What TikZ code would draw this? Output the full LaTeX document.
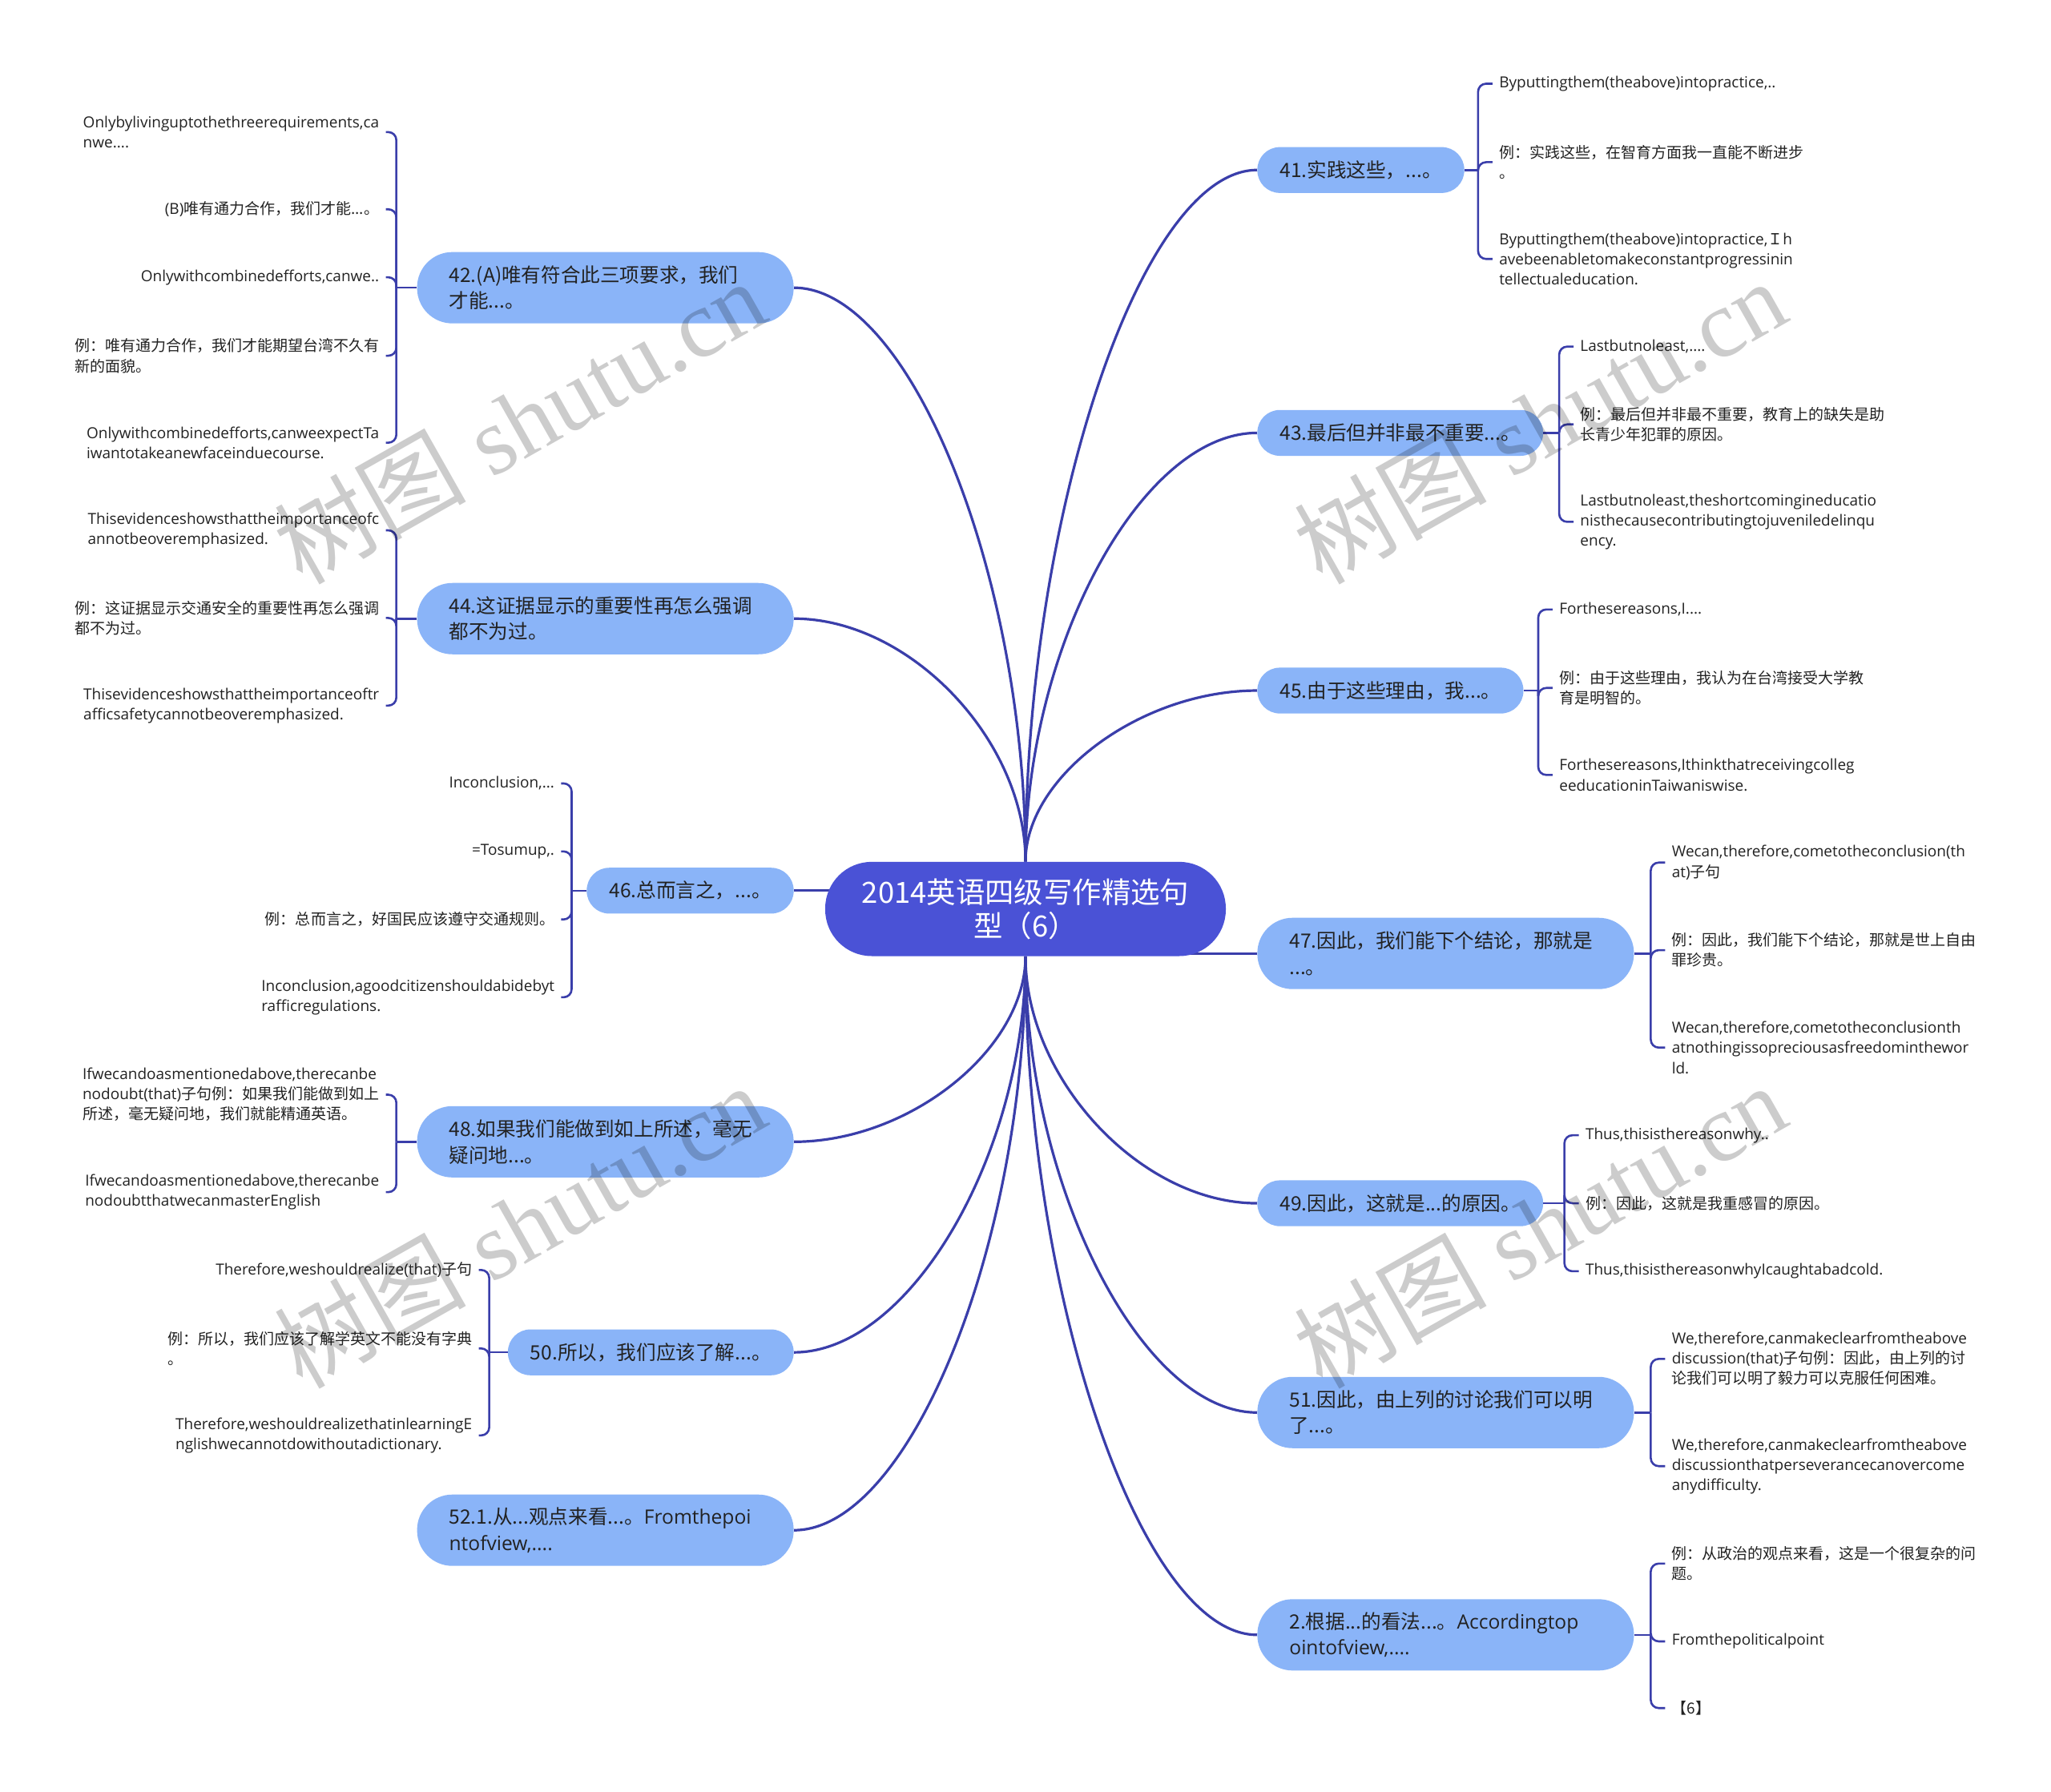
\documentclass[tikz,border=0pt]{standalone}
\usepackage{fontspec}
\setmainfont{Open Sans}
\newfontfamily\zh{Noto Sans CJK SC}
\newfontfamily\wmserif{Liberation Serif}
\usepackage{tikz}
\usetikzlibrary{positioning, calc, backgrounds}
\definecolor{rootblue}{RGB}{74, 82, 214}
\definecolor{topicblue}{RGB}{138, 180, 248}
\definecolor{linkblue}{RGB}{58, 62, 170}
\definecolor{leafgray}{RGB}{34, 34, 34}
\tikzstyle{rootnode} = [rectangle, fill=rootblue, rounded corners=29pt, minimum width=250pt, minimum height=58.8pt, text=white, align=center, font=\zh\fontsize{18.2}{21.2}\selectfont]
\tikzstyle{topicnode} = [rectangle, fill=topicblue, rounded corners=14pt, inner xsep=14pt, inner ysep=4pt, minimum height=28.6pt, align=left, text=leafgray, font=\zh\fontsize{12.3}{16.3}\selectfont]
\tikzstyle{topicwide} = [topicnode, text width=195pt, inner xsep=20pt, rounded corners=22pt, minimum height=44.5pt]
\tikzstyle{leafnode} = [inner xsep=4pt, inner ysep=1pt, align=left, text=leafgray, font=\fontsize{9.5}{12.6}\selectfont]
\tikzstyle{leafcn} = [leafnode, font=\zh\fontsize{9.5}{12.6}\selectfont]
\tikzstyle{branchline} = [line width=1.6pt, color=linkblue]
\tikzstyle{hookline} = [line width=1.3pt, color=linkblue, rounded corners=5pt]
\tikzstyle{stamp} = [rotate=29.5, text=black, text opacity=0.2, font=\fontsize{60}{60}\selectfont]
\newcommand{\twig}[2]{\draw[branchline] (#1) .. controls ($(#1)!0.5!(#1 |- #2)$) and ($(#1 |- #2)!0.5!(#2)$) .. (#2);}

\begin{document}
\begin{tikzpicture}[x=0.8163pt, y=-0.8163pt]
    \useasboundingbox (0,0) rectangle (1568,1370);

    \node (root) [rootnode] at (784,695) {2014英语四级写作精选句\\型（6）};

    \node (n41) [topicnode, anchor=west] at (961,130) {41.实践这些，...。};
    \node (n43) [topicnode, anchor=west] at (961,331) {43.最后但并非最不重要...。};
    \node (n45) [topicnode, anchor=west] at (961,528) {45.由于这些理由，我...。};
    \node (n47) [topicwide, anchor=west] at (961,729) {47.因此，我们能下个结论，那就是\\...。};
    \node (n49) [topicnode, anchor=west] at (961,920) {49.因此，这就是...的原因。};
    \node (n51) [topicwide, anchor=west] at (961,1080) {51.因此，由上列的讨论我们可以明\\了...。};
    \node (n2) [topicwide, anchor=west] at (961,1250) {2.根据...的看法...。{\rmfamily Accordingtop}\\{\rmfamily ointofview,....}};

    \node (n42) [topicwide, anchor=east] at (607,220) {42.(A)唯有符合此三项要求，我们\\才能...。};
    \node (n44) [topicwide, anchor=east] at (607,473) {44.这证据显示的重要性再怎么强调\\都不为过。};
    \node (n46) [topicnode, anchor=east] at (607,681) {46.总而言之，...。};
    \node (n48) [topicwide, anchor=east] at (607,873) {48.如果我们能做到如上所述，毫无\\疑问地...。};
    \node (n50) [topicnode, anchor=east] at (607,1034) {50.所以，我们应该了解...。};
    \node (n521) [topicwide, anchor=east] at (607,1170) {52.1.从...观点来看...。{\rmfamily Fromthepoi}\\{\rmfamily ntofview,....}};

    \coordinate (b41) at (1130,130);
    \coordinate (b43) at (1192,331);
    \coordinate (b45) at (1176,528);
    \coordinate (b47) at (1262,729);
    \coordinate (b49) at (1196,920);
    \coordinate (b51) at (1262,1080);
    \coordinate (b2) at (1262,1250);
    \coordinate (b42) at (303,220);
    \coordinate (b44) at (303,473);
    \coordinate (b46) at (437,681);
    \coordinate (b48) at (303,873);
    \coordinate (b50) at (374,1034);

    \node (l41a) [leafnode, anchor=west] at (1141,64) {Byputtingthem(theabove)intopractice,..};
    \node (l41b) [leafcn, anchor=west] at (1141,124) {例：实践这些，在智育方面我一直能不断进步\\。};
    \node (l41c) [leafnode, anchor=west] at (1141,198) {Byputtingthem(theabove)intopractice,{\zh Ｉ}h\\avebeenabletomakeconstantprogressinin\\tellectualeducation.};

    \node (l43a) [leafnode, anchor=west] at (1203,265) {Lastbutnoleast,....};
    \node (l43b) [leafcn, anchor=west] at (1203,324.5) {例：最后但并非最不重要，教育上的缺失是助\\长青少年犯罪的原因。};
    \node (l43c) [leafnode, anchor=west] at (1203,399) {Lastbutnoleast,theshortcomingineducatio\\nisthecausecontributingtojuveniledelinqu\\ency.};

    \node (l45a) [leafnode, anchor=west] at (1187,466) {Forthesereasons,I....};
    \node (l45b) [leafcn, anchor=west] at (1187,526) {例：由于这些理由，我认为在台湾接受大学教\\育是明智的。};
    \node (l45c) [leafnode, anchor=west] at (1187,592.5) {Forthesereasons,Ithinkthatreceivingcolleg\\eeducationinTaiwaniswise.};

    \node (l47a) [leafnode, anchor=west] at (1273,659.5) {Wecan,therefore,cometotheconclusion(th\\at){\zh 子句}};
    \node (l47b) [leafcn, anchor=west] at (1273,726.5) {例：因此，我们能下个结论，那就是世上自由\\罪珍贵。};
    \node (l47c) [leafnode, anchor=west] at (1273,801) {Wecan,therefore,cometotheconclusionth\\atnothingissopreciousasfreedominthewor\\ld.};

    \node (l49a) [leafnode, anchor=west] at (1207,868) {Thus,thisisthereasonwhy..};
    \node (l49b) [leafcn, anchor=west] at (1207,920) {例：因此，这就是我重感冒的原因。};
    \node (l49c) [leafnode, anchor=west] at (1207,972) {Thus,thisisthereasonwhyIcaughtabadcold.};

    \node (l51a) [leafnode, anchor=west] at (1273,1039) {We,therefore,canmakeclearfromtheabove\\discussion(that){\zh 子句例：因此，由上列的讨}\\{\zh 论我们可以明了毅力可以克服任何困难。}};
    \node (l51b) [leafnode, anchor=west] at (1273,1121) {We,therefore,canmakeclearfromtheabove\\discussionthatperseverancecanovercome\\anydifficulty.};

    \node (l2a) [leafcn, anchor=west] at (1273,1195.5) {例：从政治的观点来看，这是一个很复杂的问\\题。};
    \node (l2b) [leafnode, anchor=west] at (1273,1255) {Fromthepoliticalpoint};
    \node (l2c) [leafcn, anchor=west] at (1273,1306) {【6】};

    \node (l42a) [leafnode, anchor=east] at (295,101) {Onlybylivinguptothethreerequirements,ca\\nwe....};
    \node (l42b) [leafnode, anchor=east] at (295,160) {(B){\zh 唯有通力合作，我们才能...。}};
    \node (l42c) [leafnode, anchor=east] at (295,212) {Onlywithcombinedefforts,canwe..};
    \node (l42d) [leafcn, anchor=east] at (295,272) {例：唯有通力合作，我们才能期望台湾不久有\\新的面貌。};
    \node (l42e) [leafnode, anchor=east] at (295,338.5) {Onlywithcombinedefforts,canweexpectTa\\iwantotakeanewfaceinduecourse.};

    \node (l44a) [leafnode, anchor=east] at (295,405.5) {Thisevidenceshowsthattheimportanceofc\\annotbeoveremphasized.};
    \node (l44b) [leafcn, anchor=east] at (295,472.5) {例：这证据显示交通安全的重要性再怎么强调\\都不为过。};
    \node (l44c) [leafnode, anchor=east] at (295,539.5) {Thisevidenceshowsthattheimportanceoftr\\afficsafetycannotbeoveremphasized.};

    \node (l46a) [leafnode, anchor=east] at (429,599) {Inconclusion,...};
    \node (l46b) [leafnode, anchor=east] at (429,651) {=Tosumup,.};
    \node (l46c) [leafcn, anchor=east] at (429,703) {例：总而言之，好国民应该遵守交通规则。};
    \node (l46d) [leafnode, anchor=east] at (429,762.5) {Inconclusion,agoodcitizenshouldabidebyt\\rafficregulations.};

    \node (l48a) [leafnode, anchor=east] at (295,837) {Ifwecandoasmentionedabove,therecanbe\\nodoubt(that){\zh 子句例：如果我们能做到如上}\\{\zh 所述，毫无疑问地，我们就能精通英语。}};
    \node (l48b) [leafnode, anchor=east] at (295,911.5) {Ifwecandoasmentionedabove,therecanbe\\nodoubtthatwecanmasterEnglish};

    \node (l50a) [leafnode, anchor=east] at (366,971) {Therefore,weshouldrealize(that){\zh 子句}};
    \node (l50b) [leafcn, anchor=east] at (366,1031) {例：所以，我们应该了解学英文不能没有字典\\。};
    \node (l50c) [leafnode, anchor=east] at (366,1097.5) {Therefore,weshouldrealizethatinlearningE\\nglishwecannotdowithoutadictionary.};

    \begin{scope}[on background layer]
        \fill[white] (0,0) rectangle (1568,1370);
        \twig{root.north}{n41.west}
        \twig{root.north}{n43.west}
        \twig{root.north}{n45.west}
        \twig{root.north}{n42.east}
        \twig{root.north}{n44.east}
        \twig{root.south}{n49.west}
        \twig{root.south}{n51.west}
        \twig{root.south}{n2.west}
        \twig{root.south}{n48.east}
        \twig{root.south}{n50.east}
        \twig{root.south}{n521.east}
        \draw[branchline] (n46.east) -- (root.center |- n46.east);
        \draw[branchline] (n47.west) -- (root.center |- n47.west);
    \end{scope}

    \draw[hookline] (n41.east) -- (b41);
    \draw[hookline] (b41) |- (l41a.west);
    \draw[hookline] (b41) |- (l41b.west);
    \draw[hookline] (b41) |- (l41c.west);
    \draw[hookline] (n43.east) -- (b43);
    \draw[hookline] (b43) |- (l43a.west);
    \draw[hookline] (b43) |- (l43b.west);
    \draw[hookline] (b43) |- (l43c.west);
    \draw[hookline] (n45.east) -- (b45);
    \draw[hookline] (b45) |- (l45a.west);
    \draw[hookline] (b45) |- (l45b.west);
    \draw[hookline] (b45) |- (l45c.west);
    \draw[hookline] (n47.east) -- (b47);
    \draw[hookline] (b47) |- (l47a.west);
    \draw[hookline] (b47) |- (l47b.west);
    \draw[hookline] (b47) |- (l47c.west);
    \draw[hookline] (n49.east) -- (b49);
    \draw[hookline] (b49) |- (l49a.west);
    \draw[hookline] (b49) |- (l49b.west);
    \draw[hookline] (b49) |- (l49c.west);
    \draw[hookline] (n51.east) -- (b51);
    \draw[hookline] (b51) |- (l51a.west);
    \draw[hookline] (b51) |- (l51b.west);
    \draw[hookline] (n2.east) -- (b2);
    \draw[hookline] (b2) |- (l2a.west);
    \draw[hookline] (b2) |- (l2b.west);
    \draw[hookline] (b2) |- (l2c.west);

    \draw[hookline] (n42.west) -- (b42);
    \draw[hookline] (b42) |- (l42a.east);
    \draw[hookline] (b42) |- (l42b.east);
    \draw[hookline] (b42) |- (l42c.east);
    \draw[hookline] (b42) |- (l42d.east);
    \draw[hookline] (b42) |- (l42e.east);
    \draw[hookline] (n44.west) -- (b44);
    \draw[hookline] (b44) |- (l44a.east);
    \draw[hookline] (b44) |- (l44b.east);
    \draw[hookline] (b44) |- (l44c.east);
    \draw[hookline] (n46.west) -- (b46);
    \draw[hookline] (b46) |- (l46a.east);
    \draw[hookline] (b46) |- (l46b.east);
    \draw[hookline] (b46) |- (l46c.east);
    \draw[hookline] (b46) |- (l46d.east);
    \draw[hookline] (n48.west) -- (b48);
    \draw[hookline] (b48) |- (l48a.east);
    \draw[hookline] (b48) |- (l48b.east);
    \draw[hookline] (n50.west) -- (b50);
    \draw[hookline] (b50) |- (l50a.east);
    \draw[hookline] (b50) |- (l50b.east);
    \draw[hookline] (b50) |- (l50c.east);

    \node (wm1) [stamp] at (397,322) {{\zh 树图} {\wmserif shutu.cn}};
    \node (wm2) [stamp] at (1177,322) {{\zh 树图} {\wmserif shutu.cn}};
    \node (wm3) [stamp] at (397,937) {{\zh 树图} {\wmserif shutu.cn}};
    \node (wm4) [stamp] at (1177,937) {{\zh 树图} {\wmserif shutu.cn}};
\end{tikzpicture}
\end{document}
